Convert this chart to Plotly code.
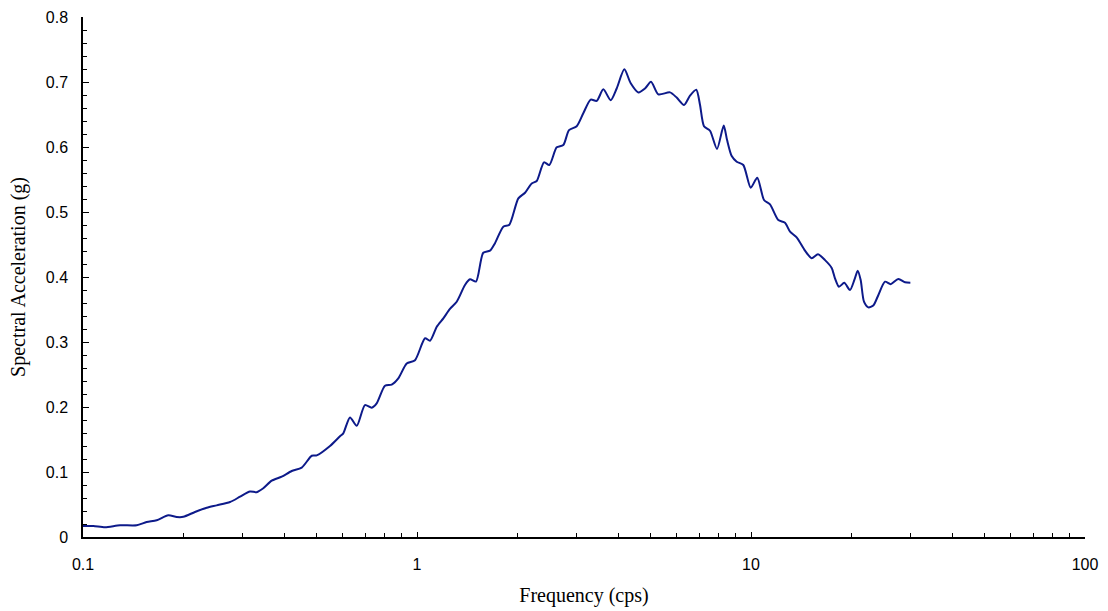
import plotly.graph_objects as go

# Frequency (cps) and spectral acceleration (g)
frequency = [
    0.100, 0.1074, 0.1164, 0.1291, 0.1448, 0.1551, 0.1662, 0.1800, 0.1908, 0.1997,
    0.2164, 0.2347, 0.2513, 0.2756, 0.2953, 0.3162, 0.3312, 0.3466, 0.3673, 0.3935,
    0.4216, 0.4517, 0.4840, 0.5008, 0.5489, 0.5881, 0.6016, 0.6301, 0.6599, 0.6985,
    0.7316, 0.7572, 0.8019, 0.8400, 0.8790, 0.9315, 0.9863, 1.057, 1.094, 1.146,
    1.199, 1.255, 1.315, 1.392, 1.441, 1.502, 1.579, 1.654, 1.712, 1.813,
    1.890, 2.011, 2.106, 2.205, 2.283, 2.400, 2.490, 2.620, 2.742, 2.852,
    3.007, 3.147, 3.312, 3.452, 3.613, 3.802, 3.962, 4.176, 4.364, 4.599,
    4.815, 5.019, 5.279, 5.721, 5.991, 6.301, 6.567, 6.858, 7.035, 7.232,
    7.538, 7.911, 8.285, 8.476, 8.755, 9.062, 9.483, 9.980, 10.44, 10.94,
    11.40, 12.07, 12.64, 13.09, 13.70, 14.51, 15.19, 15.87, 16.66, 17.44,
    17.84, 18.34, 19.02, 19.79, 20.39, 20.87, 21.30, 21.79, 22.45, 23.23,
    24.05, 25.19, 26.20, 27.61, 28.92, 30.0,
]
acceleration = [
    0.017, 0.017, 0.015, 0.018, 0.018, 0.023, 0.0257, 0.0333, 0.0308, 0.031,
    0.0385, 0.045, 0.0487, 0.0538, 0.062, 0.070, 0.069, 0.075, 0.0867, 0.0928,
    0.1015, 0.1067, 0.125, 0.1255, 0.140, 0.155, 0.1595, 0.184, 0.171, 0.203,
    0.199, 0.2057, 0.2328, 0.2344, 0.244, 0.267, 0.272, 0.3057, 0.302, 0.3235,
    0.3364, 0.351, 0.362, 0.3877, 0.3964, 0.393, 0.4374, 0.4405, 0.452, 0.4774,
    0.4805, 0.521, 0.5297, 0.544, 0.5477, 0.5764, 0.5723, 0.5995, 0.603, 0.626,
    0.632, 0.652, 0.673, 0.671, 0.6887, 0.672, 0.690, 0.7195, 0.698, 0.684,
    0.690, 0.7005, 0.681, 0.684, 0.676, 0.6646, 0.679, 0.688, 0.665, 0.632,
    0.625, 0.597, 0.633, 0.611, 0.586, 0.5774, 0.5723, 0.5374, 0.5528, 0.5185,
    0.5118, 0.4877, 0.4836, 0.4697, 0.461, 0.4405, 0.429, 0.435, 0.426, 0.414,
    0.398, 0.385, 0.391, 0.380, 0.3954, 0.4097, 0.3954, 0.362, 0.3533, 0.356,
    0.372, 0.3928, 0.389, 0.397, 0.3918, 0.391,
]

x_tickvals = [0.1, 1, 10, 100]
x_ticktext = ["0.1", "1", "10", "100"]

fig = go.Figure()
fig.add_trace(go.Scatter(
    x=frequency, y=acceleration, mode="lines",
    line=dict(color="#0d1a8a", width=2, shape="spline", smoothing=0.7),
    showlegend=False, hoverinfo="x+y",
))

tick_font = dict(family="Liberation Sans, Arial, sans-serif", size=16, color="#000000")
title_font = dict(family="Liberation Serif, Times New Roman, serif", size=20, color="#000000")

fig.update_layout(
    width=1108, height=611,
    margin=dict(l=83, r=23, t=17, b=74),
    paper_bgcolor="white", plot_bgcolor="white",
    xaxis=dict(
        type="log", range=[-1, 2], automargin=False,
        tickvals=x_tickvals, ticktext=x_ticktext,
        ticks="inside", ticklen=5, tickwidth=1, tickcolor="black",
        minor=dict(ticks="inside", ticklen=4, tickcolor="black", dtick="D1"),
        showline=True, linecolor="black", linewidth=1.5,
        showgrid=False, zeroline=False,
        tickfont=tick_font, ticklabelstandoff=12,
        title=dict(text="Frequency (cps)", font=title_font, standoff=16),
    ),
    yaxis=dict(
        range=[0, 0.8], dtick=0.1, tick0=0, automargin=False,
        ticks="inside", ticklen=6, tickwidth=1, tickcolor="black",
        minor=dict(ticks="inside", ticklen=4, tickcolor="black", dtick=0.02),
        showline=True, linecolor="black", linewidth=1.5,
        showgrid=False, zeroline=False,
        tickfont=tick_font, ticklabelstandoff=10,
        title=dict(text="Spectral Acceleration (g)", font=title_font, standoff=15),
    ),
)

fig.write_html("out.html")
